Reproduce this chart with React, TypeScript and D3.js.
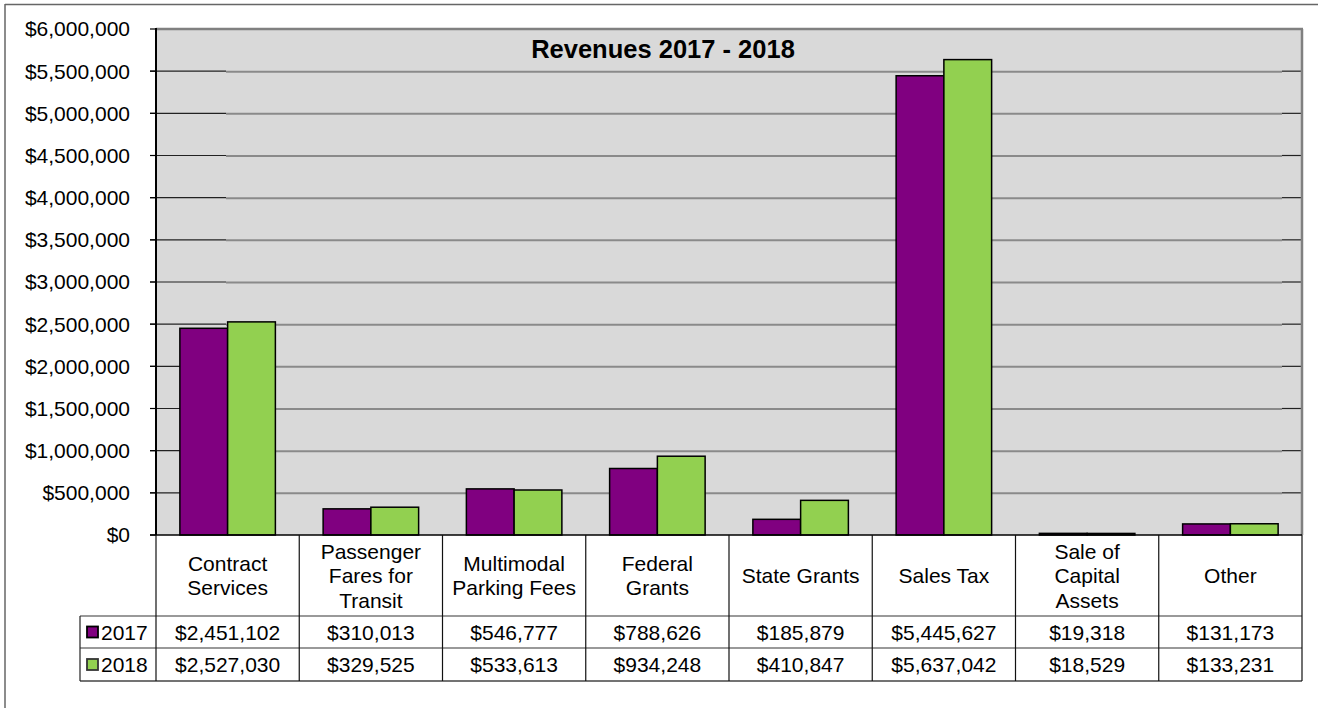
import React from "react";
import * as d3 from "d3";

// chart data
const categories: string[][] = [
  ["Contract", "Services"],
  ["Passenger", "Fares for", "Transit"],
  ["Multimodal", "Parking Fees"],
  ["Federal", "Grants"],
  ["State Grants"],
  ["Sales Tax"],
  ["Sale of", "Capital", "Assets"],
  ["Other"],
];
const seriesNames: string[] = ["2017", "2018"];
const values2017: number[] = [2451102, 310013, 546777, 788626, 185879, 5445627, 19318, 131173];
const values2018: number[] = [2527030, 329525, 533613, 934248, 410847, 5637042, 18529, 133231];
const colors: string[] = ["#800080", "#92d050"];
const title = "Revenues 2017 - 2018";

const W = 1319;
const H = 708;
const plotL = 156;
const plotR = 1302;
const plotT = 29;
const plotB = 535;
const rowHeader = 616;
const row1 = 648;
const row2 = 681;
const legendL = 80;
const fs = 21;
const font = "'Liberation Sans', Arial, sans-serif";

const App = () => {
  const allSeries = [values2017, values2018];
  const keys = categories.map((c) => c.join(" "));

  var x = d3.scaleBand<string>().domain(keys).range([plotL, plotR]).padding(0);
  var xs = d3
    .scaleBand<string>()
    .domain(seriesNames)
    .range([0, x.bandwidth()])
    .paddingInner(0)
    .paddingOuter(0.5);
  var y = d3.scaleLinear().domain([0, 6000000]).range([plotB, plotT]);
  const ticks = y.ticks(12);
  const money = (v: number) => "$" + d3.format(",")(v);

  return (
    <svg
      width={W}
      height={H}
      style={{ position: "absolute", left: 0, top: 0, background: "#fff" }}
      fontFamily={font}
    >
      {/* outer frame */}
      <line x1={5} x2={1318} y1={4.5} y2={4.5} stroke="#666" strokeWidth={1.5} />
      <line x1={5} x2={5} y1={4} y2={H} stroke="#666" strokeWidth={1.5} />

      {/* plot area */}
      <rect x={plotL} y={plotT} width={plotR - plotL} height={plotB - plotT} fill="#d9d9d9" />

      {/* gridlines */}
      {ticks
        .filter((t) => t > 0 && t < 6000000)
        .map((t) => (
          <g key={"g" + t}>
            <line x1={226} x2={1282} y1={y(t) + 0.5} y2={y(t) + 0.5} stroke="#8a8a8a" strokeWidth={2} />
            <line x1={plotL - 6} x2={226} y1={y(t)} y2={y(t)} stroke="#222" strokeWidth={1.2} />
            <line x1={1282} x2={plotR} y1={y(t)} y2={y(t)} stroke="#222" strokeWidth={1.2} />
          </g>
        ))}

      {/* plot border top/right */}
      <line x1={plotL} x2={plotR + 1} y1={plotT} y2={plotT} stroke="#808080" strokeWidth={2.5} />
      <line x1={plotR} x2={plotR} y1={plotT} y2={plotB} stroke="#808080" strokeWidth={2.5} />

      {/* bars */}
      {keys.map((k, i) => (
        <g key={k} transform={`translate(${x(k)},0)`}>
          {seriesNames.map((s, j) => (
            <rect
              key={s}
              x={xs(s)}
              y={y(allSeries[j][i])}
              width={xs.bandwidth()}
              height={plotB - y(allSeries[j][i])}
              fill={colors[j]}
              stroke="#000"
              strokeWidth={1.5}
            />
          ))}
        </g>
      ))}

      {/* y axis */}
      <line x1={plotL} x2={plotL} y1={plotT - 1} y2={plotB} stroke="#000" strokeWidth={2} />
      {ticks.map((t) => (
        <g key={"t" + t}>
          <line x1={plotL - 6} x2={plotL} y1={y(t)} y2={y(t)} stroke="#000" strokeWidth={1.2} />
          <text x={130} y={y(t)} dy="0.35em" textAnchor="end" fontSize={fs} fill="#000">
            {money(t)}
          </text>
        </g>
      ))}
      <line x1={plotL - 6} x2={plotR} y1={plotB} y2={plotB} stroke="#000" strokeWidth={1.5} />

      {/* title */}
      <text x={663} y={58} textAnchor="middle" fontSize={25.5} fontWeight="bold" fill="#000">
        {title}
      </text>

      {/* data table */}
      <line x1={legendL} x2={plotR} y1={rowHeader} y2={rowHeader} stroke="#777" strokeWidth={1.5} />
      <line x1={legendL} x2={plotR} y1={row1} y2={row1} stroke="#777" strokeWidth={1.5} />
      <line x1={legendL} x2={plotR} y1={row2} y2={row2} stroke="#444" strokeWidth={1.5} />
      <line x1={legendL} x2={legendL} y1={rowHeader} y2={row2} stroke="#222" strokeWidth={1.2} />
      {keys.map((k) => (
        <line key={"v" + k} x1={x(k)} x2={x(k)} y1={plotB} y2={row2} stroke="#111" strokeWidth={1.2} />
      ))}
      <line x1={plotR} x2={plotR} y1={plotB} y2={row2} stroke="#111" strokeWidth={1.2} />

      {categories.map((lines, i) => {
        const cx = (x(keys[i]) as number) + x.bandwidth() / 2;
        const mid = (plotB + rowHeader) / 2;
        const lh = 24.5;
        return (
          <text key={"c" + i} textAnchor="middle" fontSize={fs} fill="#000">
            {lines.map((l, li) => (
              <tspan key={li} x={cx} y={mid + (li - (lines.length - 1) / 2) * lh} dy="0.36em">
                {l}
              </tspan>
            ))}
          </text>
        );
      })}

      {seriesNames.map((s, j) => {
        const top = j === 0 ? rowHeader : row1;
        const bot = j === 0 ? row1 : row2;
        const cy = (top + bot) / 2;
        return (
          <g key={"r" + s}>
            <rect
              x={87}
              y={cy - 5.5}
              width={11}
              height={11}
              fill={colors[j]}
              stroke={j === 0 ? "#000" : "#333"}
              strokeWidth={1.8}
            />
            <text x={101} y={cy} dy="0.36em" fontSize={fs} fill="#000">
              {s}
            </text>
            {keys.map((k, i) => (
              <text
                key={k}
                x={(x(k) as number) + x.bandwidth() / 2}
                y={cy}
                dy="0.36em"
                textAnchor="middle"
                fontSize={fs}
                fill="#000"
              >
                {money(allSeries[j][i])}
              </text>
            ))}
          </g>
        );
      })}
    </svg>
  );
};

export default App;
